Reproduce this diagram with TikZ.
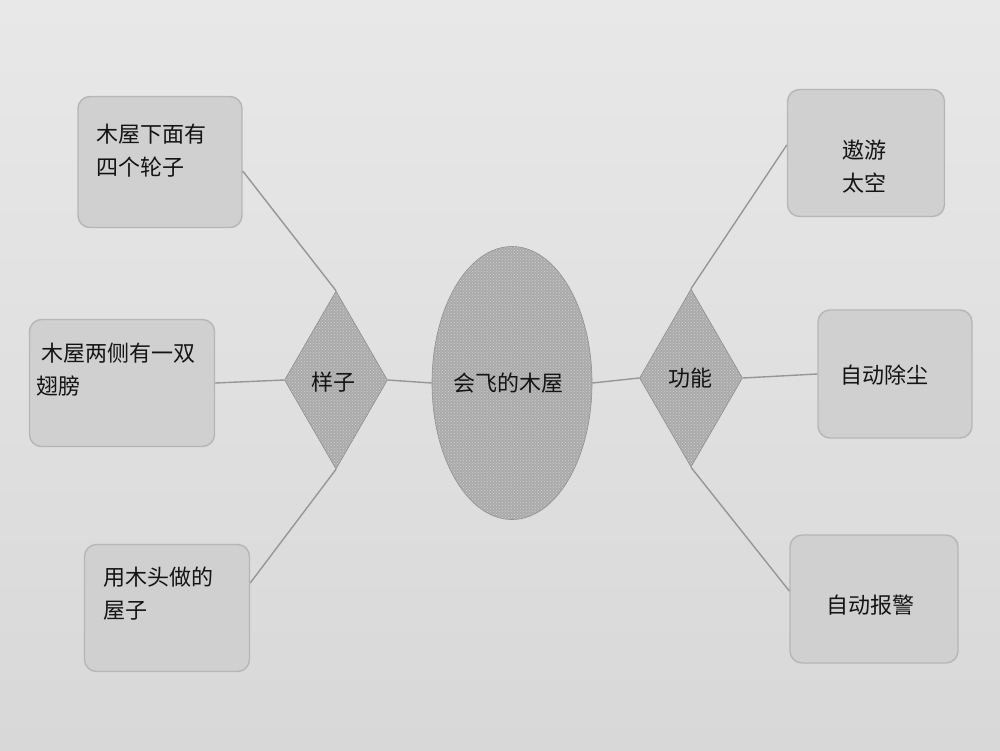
\documentclass[tikz,border=0pt]{standalone}
\usepackage{fontspec}
\newfontfamily\cjk{Noto Sans CJK SC}
\usetikzlibrary{shapes.geometric,patterns}
\definecolor{bgtop}{RGB}{232,232,232}
\definecolor{bgbot}{RGB}{216,216,216}
\definecolor{boxfill}{RGB}{208,208,208}
\definecolor{boxline}{RGB}{182,182,182}
\definecolor{conn}{RGB}{150,150,150}
\definecolor{shapefill}{RGB}{170,170,170}
\definecolor{ink}{RGB}{20,20,20}
\tikzset{
  card/.style={draw=boxline, fill=boxfill, rounded corners=12pt, line width=1.4pt, inner sep=0pt},
  hatchfill/.style={preaction={fill=shapefill}, pattern=crosshatch dots, pattern color=shapefill!55!white},
  rhomb/.style={diamond, draw=shapefill!85!black, line width=0.6pt, hatchfill, inner sep=0pt, minimum width=103pt, minimum height=178pt},
  oval/.style={ellipse, draw=shapefill!85!black, line width=0.6pt, hatchfill, inner sep=0pt, minimum width=160pt, minimum height=273pt},
  txt/.style={text=ink, font=\cjk\fontsize{22}{33}\selectfont, inner sep=0pt},
  link/.style={draw=conn, line width=1.4pt}
}
\begin{document}
\begin{tikzpicture}[x=1pt,y=-1pt]
\useasboundingbox (0,0) rectangle (1000,750);
\shade[top color=bgtop, bottom color=bgbot] (0,0) rectangle (1000,750);
% boxes
\node[card, minimum width=164pt, minimum height=131pt] (tl) at (160,162) {};
\node[card, minimum width=185pt, minimum height=127pt] (ml) at (122,383) {};
\node[card, minimum width=165pt, minimum height=127pt] (bl) at (167,608) {};
\node[card, minimum width=157pt, minimum height=127pt] (tr) at (866,153) {};
\node[card, minimum width=154pt, minimum height=128pt] (mr) at (895,374) {};
\node[card, minimum width=168pt, minimum height=128pt] (br) at (874,599) {};
% central shapes
\node[rhomb] (look) at (336,380) {};
\node[oval] (house) at (512,383) {};
\node[rhomb] (func) at (691,378) {};
% connectors
\draw[link] ([yshift=-9pt]tl.east) -- (look.north);
\draw[link] (ml.east) -- (look.west);
\draw[link] ([yshift=25pt]bl.east) -- (look.south);
\draw[link] (look.east) -- (house.west);
\draw[link] (house.east) -- (func.west);
\draw[link] (func.north) -- ([yshift=8pt]tr.west);
\draw[link] (func.east) -- (mr.west);
\draw[link] (func.south) -- ([yshift=8pt]br.west);
% texts
\node[txt, anchor=west, align=left] (ttl) at (96,151) {木屋下面有\\四个轮子};
\node[txt, anchor=west, align=left] (tml) at (36,370) {\ 木屋两侧有一双\\翅膀};
\node[txt, anchor=west, align=left] (tbl) at (103,594) {用木头做的\\屋子};
\node[txt] (tlook) at (333,382) {样子};
\node[txt] (thouse) at (508,383) {会飞的木屋};
\node[txt] (tfunc) at (690,378) {功能};
\node[txt, align=center] (ttr) at (864,167) {遨游\\太空};
\node[txt] (tmr) at (884,375) {自动除尘};
\node[txt] (tbr) at (870,605) {自动报警};
\end{tikzpicture}
\end{document}
